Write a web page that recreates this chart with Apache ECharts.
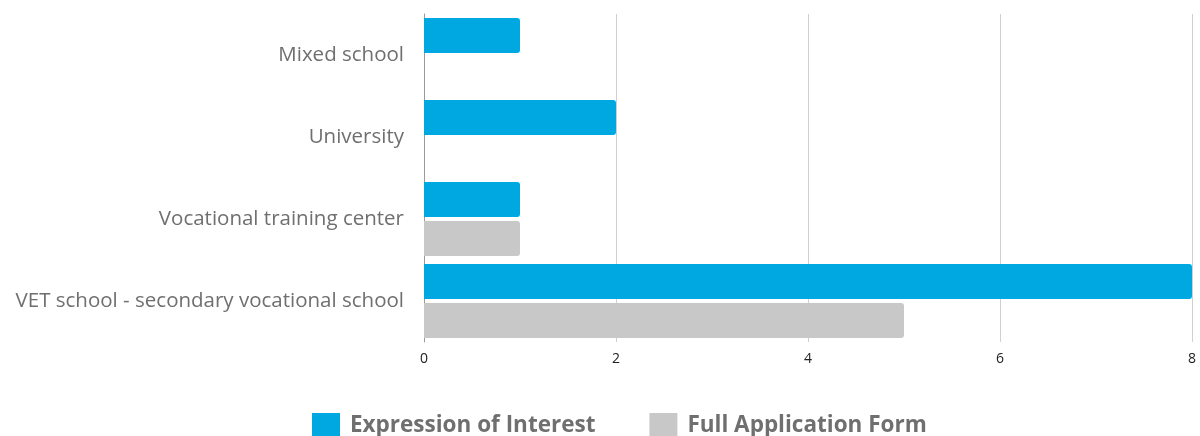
<!DOCTYPE html>
<html>
<head>
<meta charset="utf-8">
<script src="https://cdn.jsdelivr.net/npm/echarts@6/dist/echarts.min.js"></script>
<style>
  html, body { margin: 0; padding: 0; background: #fff; }
  #chart { width: 1200px; height: 436px; }
</style>
</head>
<body>
<div id="chart"></div>
<script>
var categories = ['VET school - secondary vocational school', 'Vocational training center', 'University', 'Mixed school'];
var interest = [8, 1, 2, 1];
var fullForm = [5, 1, 0, 0];
var xTicks = [0, 2, 4, 6, 8];

var chart = echarts.init(document.getElementById('chart'));
chart.setOption({
    animation: false,
    textStyle: { fontFamily: 'Open Sans' },
    legend: {
        bottom: -8,
        left: 307,
        itemWidth: 28,
        itemHeight: 26,
        itemGap: 54,
        icon: 'rect',
        textStyle: { fontSize: 22.5, fontWeight: 'bold', color: '#6f6f6f', padding: [0, 0, 0, 5] },
        data: ['Expression of Interest', 'Full Application Form']
    },
    grid: { left: 424, right: 8, top: 14, bottom: 94 },
    xAxis: {
        type: 'value',
        min: 0, max: 8, interval: 2,
        axisLine: { show: false },
        axisTick: { show: false },
        splitLine: { lineStyle: { color: '#d0d0d0' } },
        axisLabel: { color: '#222', fontSize: 14, margin: 10,
            formatter: function (v) { return xTicks.indexOf(v) >= 0 ? v : ''; } }
    },
    yAxis: {
        type: 'category',
        data: categories,
        axisLine: { lineStyle: { color: '#9a9a9a' } },
        axisTick: { show: false },
        axisLabel: { color: '#6f6f6f', fontSize: 20.5, margin: 20 }
    },
    series: [
        {
            name: 'Expression of Interest',
            type: 'bar',
            data: interest,
            barWidth: 35,
            barGap: '11%',
            itemStyle: { color: '#00a8e1', borderRadius: [0, 3, 3, 0] }
        },
        {
            name: 'Full Application Form',
            type: 'bar',
            data: fullForm,
            barWidth: 35,
            barGap: '11%',
            itemStyle: { color: '#c9c8c9', borderRadius: [0, 3, 3, 0] }
        }
    ]
});
</script>
</body>
</html>
